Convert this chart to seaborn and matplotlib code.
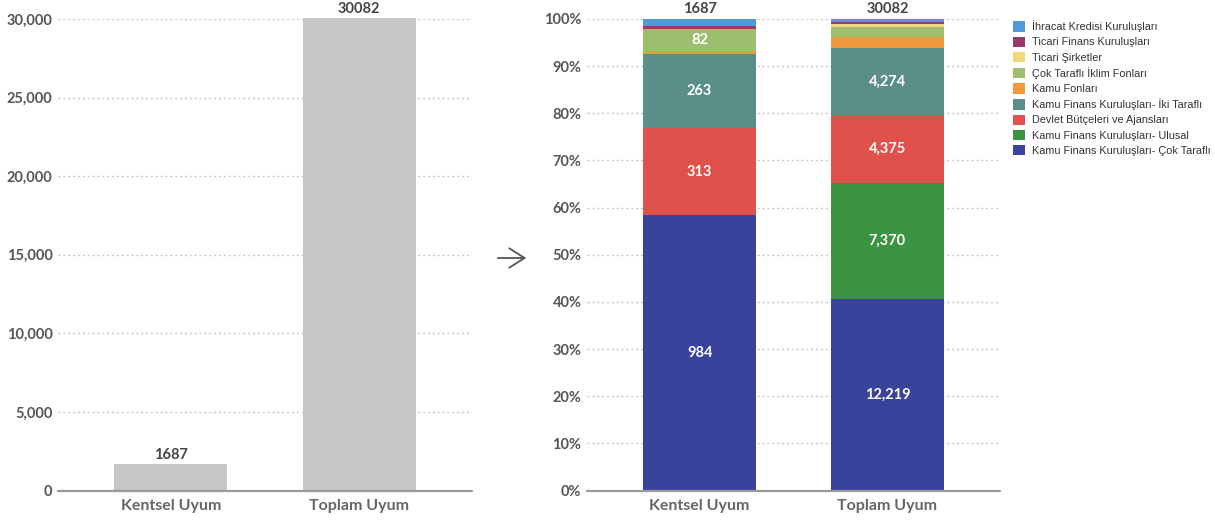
import numpy as np
import pandas as pd
import matplotlib
matplotlib.use("Agg")
import matplotlib.pyplot as plt
from matplotlib.patches import Patch
import seaborn as sns

# ---------------- data ----------------
categories = ["Kentsel Uyum", "Toplam Uyum"]
totals = [1687, 30082]

series_names = [
    "Kamu Finans Kuruluşları- Çok Taraflı",
    "Kamu Finans Kuruluşları- Ulusal",
    "Devlet Bütçeleri ve Ajansları",
    "Kamu Finans Kuruluşları- İki Taraflı",
    "Kamu Fonları",
    "Çok Taraflı İklim Fonları",
    "Ticari Şirketler",
    "Ticari Finans Kuruluşları",
    "İhracat Kredisi Kuruluşları",
]
kentsel_values = [984, 0, 313, 263, 11, 82, 0, 8, 26]
toplam_values = [12219, 7370, 4375, 4274, 700, 665, 160, 130, 189]
series_colors = ["#39439b", "#3a9441", "#e0514b", "#5b8e88", "#ec9a3c",
                 "#9bbf6e", "#f2d57c", "#963a68", "#4f9bd9"]
left_ticks = [0, 5000, 10000, 15000, 20000, 25000, 30000]
right_ticks = [0, 10, 20, 30, 40, 50, 60, 70, 80, 90, 100]

# ---------------- style ----------------
sns.set_theme(style="white")
plt.rcParams["font.family"] = ["Lato", "DejaVu Sans"]
TICK_C = "#555555"
GRID_C = "#c8c8c8"
BASE_C = "#9a9a9a"

fig = plt.figure(figsize=(12.15, 5.2), dpi=100)
ax1 = fig.add_axes([58 / 1215, 29.5 / 520, 414 / 1215, 471.5 / 520])
ax2 = fig.add_axes([587 / 1215, 29.5 / 520, 413 / 1215, 471.5 / 520])


def style_axis(ax, ticks, labels):
    ax.set_ylim(ticks[0], ticks[-1])
    ax.set_xlim(-0.6, 1.6)
    ax.set_yticks(ticks)
    ax.set_yticklabels(labels, fontsize=10.5, color=TICK_C, fontweight="bold")
    for t in ticks[1:]:
        ax.axhline(t, color=GRID_C, lw=1.0, ls=(0, (1.5, 2.0)), zorder=0)
    ax.axhline(0, color=BASE_C, lw=1.6, zorder=5, clip_on=False)
    for s in ax.spines.values():
        s.set_visible(False)
    ax.tick_params(axis="y", length=0, pad=4)
    ax.tick_params(axis="x", length=0, pad=6)
    ax.set_xlabel("")
    ax.set_ylabel("")
    ax.set_xticks([0, 1])
    ax.set_xticklabels(categories, fontsize=11.5, color="#666666", fontweight="bold")


# ---------------- left chart ----------------
df_tot = pd.DataFrame({"cat": categories, "total": totals})
sns.barplot(data=df_tot, x="cat", y="total", ax=ax1, color="#c6c6c8",
            width=0.6, saturation=1, zorder=2, linewidth=0)
for p in ax1.patches:
    p.set_clip_on(False)
style_axis(ax1, left_ticks, [f"{t:,}" for t in left_ticks])
for i, t in enumerate(totals):
    ax1.annotate(f"{t}", (i, t), xytext=(0, 1.5), textcoords="offset points",
                 ha="center", va="bottom", fontsize=10.5,
                 color="#444444", fontweight="bold", annotation_clip=False)

# ---------------- right chart (100% stacked) ----------------
records = []
for cat, vals, tot in zip(categories, [kentsel_values, toplam_values], totals):
    s = sum(vals)
    cum = 0.0
    for name, v in zip(series_names, vals):
        pct = v / s * 100
        records.append({"cat": cat, "series": name, "value": v,
                        "pct": pct, "bottom": cum, "top": cum + pct})
        cum += pct
df = pd.DataFrame(records)

# draw from top of stack downwards so each lower segment overlays
for name, col in reversed(list(zip(series_names, series_colors))):
    sub = df[df["series"] == name]
    sns.barplot(data=sub, x="cat", y="top", ax=ax2, color=col, width=0.6,
                saturation=1, order=categories, zorder=2, linewidth=0)
style_axis(ax2, right_ticks, [f"{t}%" for t in right_ticks])

for _, r in df.iterrows():
    if r["pct"] >= 3:
        xi = categories.index(r["cat"])
        ax2.text(xi, (r["bottom"] + r["top"]) / 2, f"{int(r['value']):,}",
                 ha="center", va="center", color="white", fontsize=10.5,
                 fontweight="bold", zorder=6)
for i, t in enumerate(totals):
    ax2.annotate(f"{t}", (i, 100), xytext=(0, 2), textcoords="offset points",
                 ha="center", va="bottom", fontsize=10.5,
                 color="#444444", fontweight="bold", annotation_clip=False)

# legend (top of stack first)
handles = [Patch(facecolor=c, edgecolor="none", label=n)
           for n, c in reversed(list(zip(series_names, series_colors)))]
fig.legend(handles=handles, loc="upper left",
           bbox_to_anchor=(1009 / 1215, 1 - 16 / 520), frameon=False,
           prop={"family": "Liberation Sans", "size": 7.8},
           handlelength=1.1, handleheight=1.1, handletextpad=0.6,
           labelspacing=0.4, borderaxespad=0, labelcolor="#333333")

# arrow between charts
fig.patches.append(matplotlib.patches.FancyArrowPatch(
    (495 / 1215, 1 - 258 / 520), (529 / 1215, 1 - 258 / 520),
    transform=fig.transFigure, arrowstyle="->,head_length=0.55,head_width=0.35",
    color="#555555", lw=1.3, mutation_scale=20))

fig.savefig("out.png", dpi=100)
